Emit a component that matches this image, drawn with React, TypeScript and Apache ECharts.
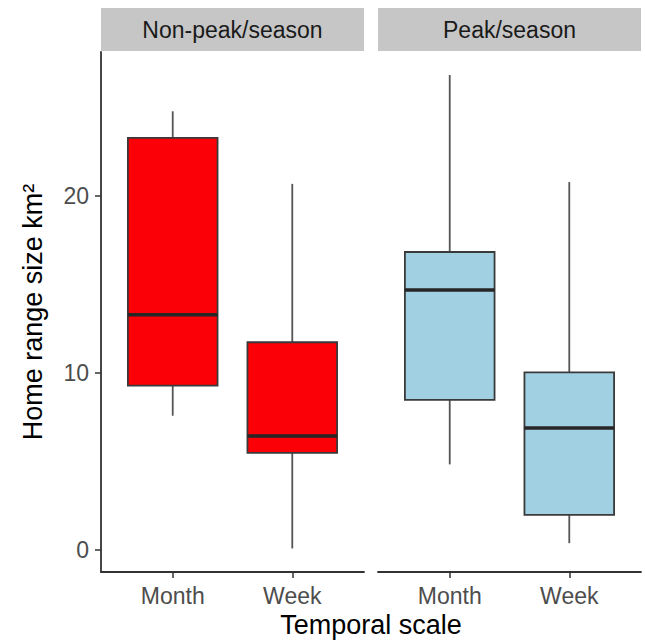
import React, { useEffect, useRef } from "react";
import * as echarts from "echarts";

const categories = ["Month", "Week"];
const panels = ["Non-peak/season", "Peak/season"];
// [min, q1, median, q3, max] per category
const nonPeakStats = [
  [7.6, 9.3, 13.3, 23.3, 24.8],
  [0.1, 5.5, 6.45, 11.75, 20.7],
];
const peakStats = [
  [4.85, 8.5, 14.7, 16.85, 26.85],
  [0.4, 2.0, 6.9, 10.05, 20.8],
];
const panelColors = ["#fb0006", "#a0d0e1"];
const yTicks = [0, 10, 20];
const xTicks = [1, 2];

const FONT = "Liberation Sans, Arial, sans-serif";

export default function App() {
  const ref = useRef<HTMLDivElement>(null);
  useEffect(() => {
    if (!ref.current) return;
    const chart = echarts.init(ref.current, null, { renderer: "svg" });
    const grids = [
      { left: 101, top: 52, width: 263, height: 520 },
      { left: 378, top: 52, width: 263, height: 520 },
    ];
    const makeRender = (color: string) => (params: any, api: any) => {
      const x = api.value(0);
      const lo = api.value(1);
      const q1 = api.value(2);
      const med = api.value(3);
      const q3 = api.value(4);
      const hi = api.value(5);
      const hw = 0.375;
      const tl = api.coord([x - hw, q3]);
      const br = api.coord([x + hw, q1]);
      const cHi = api.coord([x, hi]);
      const cQ3 = api.coord([x, q3]);
      const cQ1 = api.coord([x, q1]);
      const cLo = api.coord([x, lo]);
      const mL = api.coord([x - hw, med]);
      const mR = api.coord([x + hw, med]);
      return {
        type: "group",
        children: [
          { type: "line", shape: { x1: cHi[0], y1: cHi[1], x2: cQ3[0], y2: cQ3[1] }, style: { stroke: "#555555", lineWidth: 1.8 } },
          { type: "line", shape: { x1: cQ1[0], y1: cQ1[1], x2: cLo[0], y2: cLo[1] }, style: { stroke: "#555555", lineWidth: 1.8 } },
          { type: "rect", shape: { x: tl[0], y: tl[1], width: br[0] - tl[0], height: br[1] - tl[1] }, style: { fill: color, stroke: "#3a3a3a", lineWidth: 1.8 } },
          { type: "line", shape: { x1: mL[0], y1: mL[1], x2: mR[0], y2: mR[1] }, style: { stroke: "#262626", lineWidth: 3.5 } },
        ],
      };
    };
    const allStats = [nonPeakStats, peakStats];
    const option: any = {
      animation: false,
      grid: grids,
      xAxis: grids.map((_, i) => ({
        type: "value",
        gridIndex: i,
        min: 0.4,
        max: 2.6,
        splitLine: { show: false },
        axisLine: { show: true, onZero: false, lineStyle: { color: "#333333", width: 1.8 } },
        axisTick: { show: true, customValues: xTicks, length: 6, lineStyle: { color: "#333333", width: 1.5 } },
        axisLabel: {
          customValues: xTicks,
          formatter: (v: number) => categories[Math.round(v) - 1] ?? "",
          color: "#4d4d4d",
          fontSize: 23,
          fontFamily: FONT,
          margin: 12,
        },
      })),
      yAxis: grids.map((_, i) => ({
        type: "value",
        gridIndex: i,
        min: -1.23,
        max: 28.15,
        show: i === 0,
        splitLine: { show: false },
        axisLine: { show: true, onZero: false, lineStyle: { color: "#333333", width: 1.8 } },
        axisTick: { show: true, customValues: yTicks, length: 6, lineStyle: { color: "#333333", width: 1.5 } },
        axisLabel: {
          customValues: yTicks,
          color: "#4d4d4d",
          fontSize: 23,
          fontFamily: FONT,
          margin: 12,
        },
      })),
      series: allStats.map((stats, i) => ({
        type: "custom",
        xAxisIndex: i,
        yAxisIndex: i,
        data: stats.map((s, j) => [xTicks[j], ...s]),
        encode: { x: 0, y: [1, 2, 3, 4, 5] },
        renderItem: makeRender(panelColors[i]),
      })),
      graphic: [
        ...grids.map((g) => ({
          type: "rect",
          shape: { x: g.left, y: 8, width: g.width, height: 43 },
          style: { fill: "#c6c6c6" },
        })),
        ...grids.map((g, i) => ({
          type: "text",
          x: g.left + g.width / 2,
          y: 30,
          style: {
            text: panels[i],
            align: "center",
            verticalAlign: "middle",
            fontSize: 23,
            fontFamily: FONT,
            fill: "#1a1a1a",
          },
        })),
        {
          type: "text",
          x: 371,
          y: 625,
          style: {
            text: "Temporal scale",
            align: "center",
            verticalAlign: "middle",
            fontSize: 27,
            fontFamily: FONT,
            fill: "#000000",
          },
        },
        {
          type: "text",
          x: 33,
          y: 312,
          rotation: Math.PI / 2,
          style: {
            text: "Home range size km²",
            align: "center",
            verticalAlign: "middle",
            fontSize: 27,
            fontFamily: FONT,
            fill: "#000000",
          },
        },
      ],
    };
    chart.setOption(option);
    return () => chart.dispose();
  }, []);
  return (
    <div
      ref={ref}
      style={{ position: "fixed", left: 0, top: 0, width: 645, height: 641, background: "#ffffff" }}
    />
  );
}
